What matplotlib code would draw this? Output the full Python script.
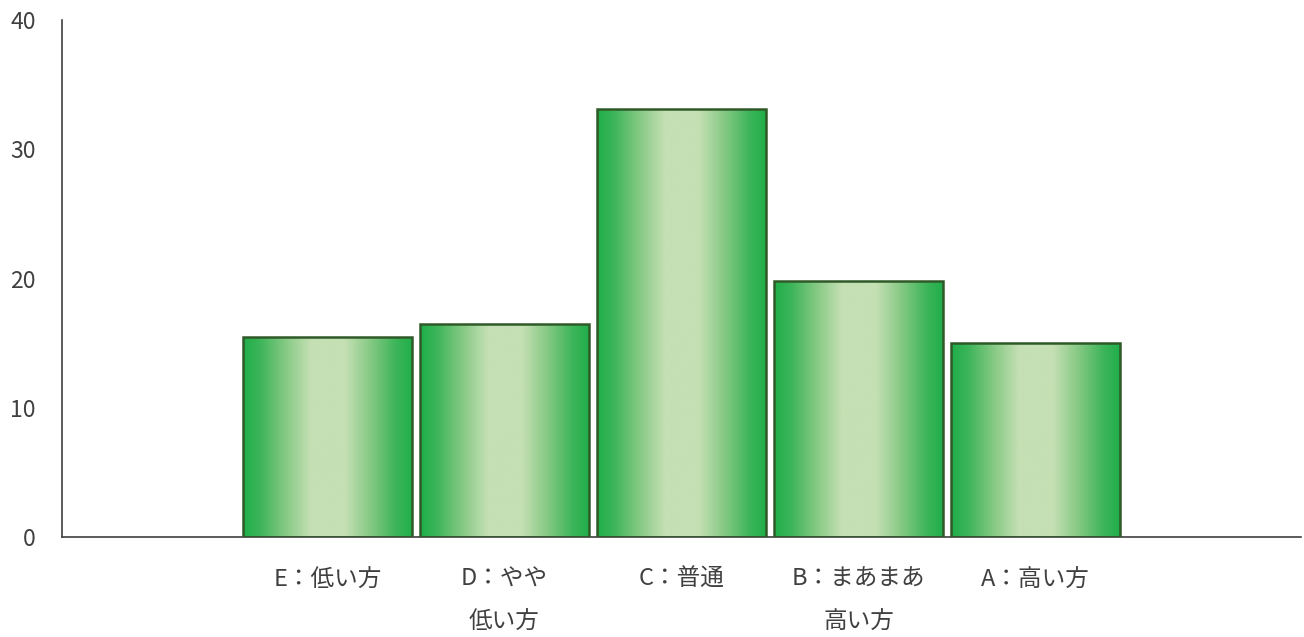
import numpy as np
import matplotlib.pyplot as plt
from matplotlib.colors import LinearSegmentedColormap

plt.rcParams['font.family'] = ['Noto Sans CJK JP', 'DejaVu Sans']

categories = ["", "E：低い方", "D：やや\n低い方", "C：普通", "B：まあまあ\n高い方", "A：高い方", ""]
values = [0, 15.5, 16.5, 33.1, 19.8, 15.0, 0]

fig = plt.figure(figsize=(13.04, 6.37), dpi=100)
ax = fig.add_axes([62 / 1304, 100 / 637, 1239 / 1304, 517 / 637])

x = np.arange(len(categories))
mask = [c != "" for c in categories]
bars = ax.bar(x[mask], np.array(values)[mask], width=0.955,
              color="none", edgecolor="#2f5a28", linewidth=1.8, zorder=3)

# horizontal gradient: dark green at the edges, pale green in the middle
cmap = LinearSegmentedColormap.from_list(
    "grn", [(0, "#1fae4a"), (0.2, "#3db55a"), (0.5, "#86c984"), (0.8, "#c5e0b4"), (1, "#c5e0b4")])
u = np.linspace(0, 1, 256)
t = 1 - np.abs(2 * u - 1)
grad = t[np.newaxis, :]
for b in bars:
    x0, y0 = b.get_x(), b.get_y()
    w, h = b.get_width(), b.get_height()
    im = ax.imshow(grad, cmap=cmap, aspect="auto", extent=[x0, x0 + w, y0, y0 + h],
                   vmin=0, vmax=1, zorder=2, interpolation="bilinear")
    im.set_clip_path(b)

ax.set_xlim(-0.5, len(categories) - 0.5)
ax.set_ylim(0, 40)
ax.set_yticks([0, 10, 20, 30, 40])
ax.set_xticks(x)
ax.set_xticklabels(categories, linespacing=2.1, va="top")

for s in ["top", "right"]:
    ax.spines[s].set_visible(False)
for s in ["left", "bottom"]:
    ax.spines[s].set_color("#404040")
    ax.spines[s].set_linewidth(1.2)

ax.tick_params(axis="both", length=0, colors="#404040")
ax.tick_params(axis="y", pad=19, labelsize=16.5)
ax.tick_params(axis="x", pad=22, labelsize=17)

fig.savefig("out.png", dpi=100)
